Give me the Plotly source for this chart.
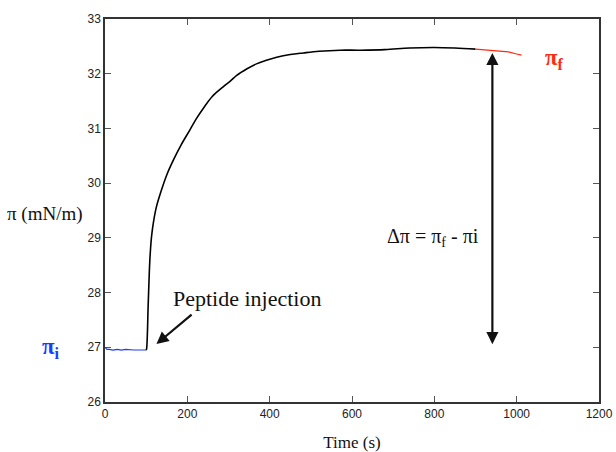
import plotly.graph_objects as go

# Baseline before injection (blue)
pre_t = [0, 5, 10, 20, 30, 40, 50, 60, 70, 80, 90, 100]
pre_pi = [27.0, 26.96, 26.96, 26.95, 26.96, 26.95, 26.96, 26.95, 26.95, 26.95, 26.95, 26.95]

# Adsorption kinetics after injection (black)
ads_t = [100, 101, 105, 109, 113, 118, 125, 137, 150, 166, 185, 206, 222, 239, 260, 287, 305,
         320, 345, 368, 390, 417, 450, 482, 520, 571, 620, 680, 740, 800, 850, 900]
ads_pi = [26.95, 26.97, 27.8, 28.6, 29.02, 29.3, 29.57, 29.87, 30.15, 30.42, 30.7, 30.97, 31.18,
          31.37, 31.58, 31.76, 31.87, 31.97, 32.09, 32.18, 32.24, 32.30, 32.35, 32.38, 32.41,
          32.43, 32.43, 32.44, 32.47, 32.48, 32.47, 32.45]

# Final plateau (red)
fin_t = [900, 920, 940, 960, 980, 1000, 1012]
fin_pi = [32.45, 32.44, 32.43, 32.42, 32.40, 32.36, 32.34]

x_ticks = [0, 200, 400, 600, 800, 1000, 1200]
y_ticks = [26, 27, 28, 29, 30, 31, 32, 33]

serif = "Liberation Serif, Times New Roman, serif"
sans = "Liberation Sans, Arial, sans-serif"

fig = go.Figure()
fig.add_trace(go.Scatter(x=pre_t, y=pre_pi, mode="lines", line=dict(color="#1a3cff", width=1.2),
                         showlegend=False))
fig.add_trace(go.Scatter(x=ads_t, y=ads_pi, mode="lines", line=dict(color="black", width=1.6),
                         line_shape="spline", showlegend=False))
fig.add_trace(go.Scatter(x=fin_t, y=fin_pi, mode="lines", line=dict(color="#ff2a10", width=1.2),
                         showlegend=False))

axis_common = dict(showline=True, linecolor="#333", linewidth=1.5, mirror="ticks",
                   ticks="inside", ticklen=6, tickcolor="#555", showgrid=False, zeroline=False,
                   automargin=False,
                   tickfont=dict(family=sans, size=12, color="#222"))

fig.update_xaxes(range=[0, 1200], tickvals=x_ticks, **axis_common,
                 title=dict(text="Time (s)", font=dict(family=serif, size=17, color="#111"),
                            standoff=16))
fig.update_yaxes(range=[26, 33], tickvals=y_ticks, **axis_common)

fig.add_annotation(x=-0.122, y=0.49, xref="paper", yref="paper", text="π (mN/m)",
                   showarrow=False, xanchor="center", yanchor="middle",
                   font=dict(family=serif, size=19, color="#111"))
fig.add_annotation(x=125, y=27.06, xref="x", yref="y", ax=214, ay=27.62, axref="x", ayref="y",
                   text="", showarrow=True, arrowhead=2, arrowsize=1.1, arrowwidth=2.2,
                   arrowcolor="#111")
fig.add_annotation(x=345, y=27.9, xref="x", yref="y", text="Peptide injection",
                   showarrow=False, font=dict(family=serif, size=22, color="#111"))
fig.add_annotation(x=941, y=32.38, xref="x", yref="y", ax=941, ay=27.03, axref="x", ayref="y",
                   text="", showarrow=True, arrowhead=2, startarrowhead=2,
                   arrowside="end+start", arrowsize=1.1, arrowwidth=2.2, arrowcolor="#111")
fig.add_annotation(x=797, y=29.0, xref="x", yref="y", text="Δπ = π<sub>f</sub> - πi",
                   showarrow=False, font=dict(family=serif, size=20, color="#111"))
fig.add_annotation(x=-0.132, y=26.99, xref="paper", yref="y", text="<b>π<sub>i</sub></b>",
                   showarrow=False, font=dict(family=serif, size=23, color="#1a3cff"))
fig.add_annotation(x=1093, y=32.26, xref="x", yref="y", text="<b>π<sub>f</sub></b>",
                   showarrow=False, font=dict(family=serif, size=23, color="#ff2a10"))

fig.update_layout(width=616, height=452, margin=dict(l=105, r=17, t=19, b=50),
                  paper_bgcolor="white", plot_bgcolor="white")
fig.write_html("out.html", config={"displayModeBar": False},
               post_script="document.body.style.margin='0';")
